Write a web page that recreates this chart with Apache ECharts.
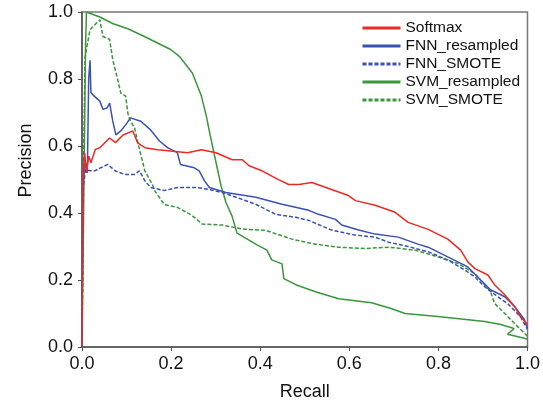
<!DOCTYPE html>
<html>
<head>
<meta charset="utf-8">
<script src="https://cdn.jsdelivr.net/npm/echarts@6/dist/echarts.min.js"></script>
<style>
	html, body { margin: 0; padding: 0; background: #fff; }
	#chart { width: 543px; height: 406px; }
</style>
</head>
<body>
<div id="chart"></div>
<script>
// [recall, precision] points
var softmaxPts = [[0,0],[0.002,0.5],[0.006,0.58],[0.01,0.52],[0.015,0.57],[0.02,0.55],[0.03,0.59],[0.04,0.595],[0.062,0.624],[0.075,0.61],[0.092,0.633],[0.114,0.645],[0.125,0.609],[0.141,0.595],[0.17,0.589],[0.199,0.585],[0.237,0.58],[0.268,0.589],[0.301,0.58],[0.337,0.559],[0.36,0.559],[0.375,0.541],[0.404,0.526],[0.442,0.499],[0.464,0.485],[0.487,0.485],[0.516,0.491],[0.56,0.47],[0.598,0.452],[0.614,0.437],[0.658,0.423],[0.703,0.402],[0.732,0.372],[0.777,0.351],[0.821,0.322],[0.85,0.289],[0.866,0.254],[0.882,0.234],[0.911,0.215],[0.926,0.186],[0.949,0.156],[0.971,0.121],[0.984,0.091],[1.0,0.067]];
var fnnResPts = [[0,0],[0.002,0.5],[0.008,0.55],[0.012,0.52],[0.015,0.8],[0.018,0.856],[0.02,0.76],[0.025,0.752],[0.04,0.734],[0.047,0.71],[0.056,0.713],[0.062,0.728],[0.069,0.675],[0.076,0.633],[0.087,0.645],[0.098,0.663],[0.109,0.684],[0.132,0.674],[0.154,0.648],[0.174,0.615],[0.192,0.595],[0.214,0.58],[0.221,0.545],[0.252,0.535],[0.263,0.526],[0.275,0.496],[0.286,0.476],[0.323,0.461],[0.39,0.447],[0.449,0.426],[0.509,0.408],[0.531,0.396],[0.569,0.381],[0.583,0.364],[0.621,0.349],[0.658,0.337],[0.71,0.328],[0.754,0.307],[0.777,0.298],[0.821,0.269],[0.866,0.239],[0.895,0.2],[0.917,0.171],[0.949,0.15],[0.971,0.121],[0.993,0.082],[1.0,0.056]];
var fnnSmotePts = [[0,0],[0.003,0.48],[0.008,0.53],[0.018,0.526],[0.029,0.526],[0.042,0.535],[0.058,0.545],[0.074,0.526],[0.096,0.515],[0.118,0.515],[0.129,0.526],[0.141,0.496],[0.154,0.476],[0.185,0.467],[0.214,0.476],[0.259,0.476],[0.286,0.47],[0.315,0.461],[0.346,0.447],[0.39,0.426],[0.435,0.396],[0.48,0.387],[0.509,0.378],[0.56,0.349],[0.614,0.334],[0.658,0.328],[0.688,0.313],[0.732,0.3],[0.777,0.284],[0.821,0.26],[0.859,0.23],[0.882,0.209],[0.904,0.18],[0.933,0.15],[0.955,0.13],[0.984,0.091],[1.0,0.053]];
var svmResPts = [[0,0],[0.008,0.9],[0.01,1.0],[0.04,0.985],[0.07,0.965],[0.103,0.95],[0.14,0.927],[0.199,0.888],[0.219,0.867],[0.248,0.817],[0.268,0.749],[0.279,0.69],[0.288,0.63],[0.301,0.55],[0.312,0.482],[0.323,0.432],[0.337,0.39],[0.348,0.34],[0.39,0.307],[0.415,0.289],[0.426,0.26],[0.449,0.248],[0.453,0.204],[0.48,0.186],[0.524,0.165],[0.576,0.144],[0.65,0.132],[0.694,0.115],[0.725,0.1],[0.799,0.091],[0.904,0.076],[0.94,0.067],[0.97,0.055],[0.955,0.038],[0.993,0.026],[1.0,0.023]];
var svmSmotePts = [[0,0],[0.004,0.6],[0.007,0.867],[0.018,0.947],[0.04,0.977],[0.047,0.927],[0.062,0.918],[0.069,0.858],[0.08,0.799],[0.087,0.758],[0.098,0.749],[0.103,0.698],[0.107,0.68],[0.118,0.654],[0.129,0.59],[0.141,0.526],[0.158,0.485],[0.163,0.467],[0.185,0.425],[0.214,0.417],[0.243,0.396],[0.252,0.387],[0.27,0.367],[0.315,0.364],[0.36,0.352],[0.413,0.348],[0.471,0.322],[0.524,0.307],[0.576,0.298],[0.636,0.294],[0.688,0.298],[0.748,0.289],[0.799,0.269],[0.844,0.249],[0.882,0.219],[0.917,0.165],[0.926,0.13],[0.949,0.1],[0.971,0.07],[1.0,0.032]];

var seriesNames = ['Softmax', 'FNN_resampled', 'FNN_SMOTE', 'SVM_resampled', 'SVM_SMOTE'];
var seriesColors = ['#ec2a24', '#3a52b4', '#3a52b4', '#3a963a', '#3a963a'];
var seriesDashed = [false, false, true, false, true];
var seriesData = [softmaxPts, fnnResPts, fnnSmotePts, svmResPts, svmSmotePts];

var font = 'Liberation Sans, Arial, sans-serif';

var series = seriesNames.map(function(name, i) {
	return {
		name: name,
		type: 'line',
		data: seriesData[i],
		symbol: 'none',
		smooth: false,
		z: 10 - i,
		lineStyle: {
			color: seriesColors[i],
			width: 1.5,
			type: seriesDashed[i] ? [4, 2] : 'solid'
		},
		itemStyle: { color: seriesColors[i] }
	};
});

var chart = echarts.init(document.getElementById('chart'));
chart.setOption({
	animation: false,
	backgroundColor: '#fff',
	grid: {
		left: 82, right: 13, top: 12, bottom: 55,
		show: true,
		borderColor: '#777',
		borderWidth: 1.5
	},
	legend: {
		orient: 'vertical',
		left: 356,
		top: 15,
		itemWidth: 38,
		itemHeight: 12,
		itemGap: 2,
		textStyle: { fontFamily: font, fontSize: 15.5, color: '#111' },
		itemStyle: { opacity: 0 },
		lineStyle: { width: 3 },
		data: seriesNames
	},
	xAxis: {
		type: 'value',
		min: 0, max: 1, interval: 0.2,
		name: 'Recall',
		nameLocation: 'middle',
		nameGap: 36,
		nameTextStyle: { fontFamily: font, fontSize: 18, color: '#111' },
		axisLine: { show: true, lineStyle: { color: '#555', width: 1.5 } },
		axisTick: { show: true, length: 4, lineStyle: { color: '#555' } },
		axisLabel: { fontFamily: font, fontSize: 18, color: '#111', margin: 8,
			formatter: function(v) { return v.toFixed(1); } },
		splitLine: { show: false }
	},
	yAxis: {
		type: 'value',
		min: 0, max: 1, interval: 0.2,
		name: 'Precision',
		nameLocation: 'middle',
		nameGap: 47,
		nameTextStyle: { fontFamily: font, fontSize: 18, color: '#111', padding: [0, 0, 0, 38] },
		axisLine: { show: true, lineStyle: { color: '#555', width: 1.5 } },
		axisTick: { show: true, length: 4, lineStyle: { color: '#555' } },
		axisLabel: { fontFamily: font, fontSize: 18, color: '#111', margin: 9,
			formatter: function(v) { return v.toFixed(1); } },
		splitLine: { show: false }
	},
	series: series
});
</script>
</body>
</html>
